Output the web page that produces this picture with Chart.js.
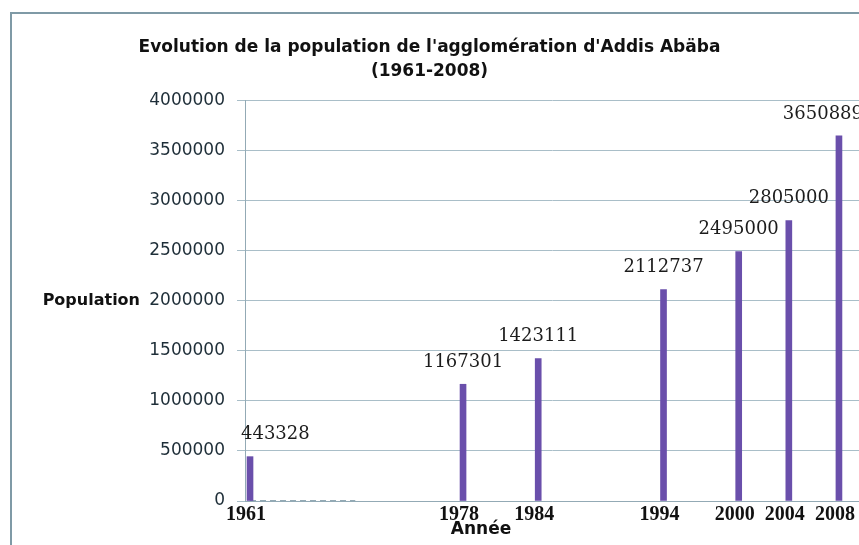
<!DOCTYPE html>
<html>
<head>
<meta charset="utf-8">
<script src="https://cdn.jsdelivr.net/npm/chart.js@4/dist/chart.umd.min.js"></script>
<style>
    body { margin: 0; background: #ffffff; }
    canvas { display: block; }
</style>
</head>
<body>
<canvas id="bar-chart-addis" width="859" height="545"></canvas>
<script>
let annees = [1961, 1978, 1984, 1994, 2000, 2004, 2008];
let population = [443328, 1167301, 1423111, 2112737, 2495000, 2805000, 3650889];
let traitAnnees = [1961, 1969.4];
let traitValeurs = [0, 0];

let couleurBarre = "#6a4fab";
let couleurGrille = "#a9bec8";
let couleurAxe = "#93aab5";

function toPoints(xs, ys) {
    let points = [];
    for (let i = 0; i < xs.length; i++) {
        points.push({ x: xs[i], y: ys[i] });
    }
    return points;
}

// cadre, titres d'axes et étiquettes de données
let decorPlugin = {
    id: 'decor',
    beforeDraw: function (chart) {
        let ctx = chart.ctx;
        ctx.save();
        ctx.strokeStyle = "#7f9aa6";
        ctx.lineWidth = 2;
        ctx.beginPath();
        ctx.moveTo(11, chart.height);
        ctx.lineTo(11, 13);
        ctx.lineTo(chart.width, 13);
        ctx.stroke();
        ctx.restore();
    },
    afterDatasetsDraw: function (chart) {
        let ctx = chart.ctx;
        let area = chart.chartArea;
        ctx.save();

        ctx.fillStyle = "#111111";
        ctx.font = "bold 16px 'DejaVu Sans'";
        ctx.textAlign = "right";
        ctx.textBaseline = "middle";
        ctx.fillText("Population", 140, (area.top + area.bottom) / 2);

        ctx.font = "bold 17px 'DejaVu Sans'";
        ctx.textAlign = "center";
        ctx.fillText("Année", area.left + 236, 530);

        ctx.font = "18px 'DejaVu Serif'";
        ctx.fillStyle = "#1c1c1c";
        let meta = chart.getDatasetMeta(0);
        for (let i = 0; i < meta.data.length; i++) {
            let bar = meta.data[i];
            let texte = String(population[i]);
            let w = ctx.measureText(texte).width;
            let x = bar.x;
            x = Math.max(x, area.left - 4 + w / 2);
            x = Math.min(x, area.right + 4 - w / 2);
            ctx.fillText(texte, x, bar.y - 22);
        }
        ctx.restore();
    }
};

new Chart(document.getElementById("bar-chart-addis"), {
    type: 'bar',
    data: {
        datasets: [{
            label: "Population",
            data: toPoints(annees, population),
            backgroundColor: couleurBarre,
            barThickness: 6
        }, {
            type: 'line',
            label: "trait",
            data: toPoints(traitAnnees, traitValeurs),
            borderColor: couleurAxe,
            borderWidth: 2,
            borderDash: [6, 4],
            pointRadius: 0,
            fill: false
        }]
    },
    options: {
        responsive: false,
        animation: false,
        layout: { padding: 0 },
        plugins: {
            legend: { display: false },
            tooltip: { enabled: false },
            title: {
                display: true,
                text: ["Evolution de la population de l'agglomération d'Addis Abäba", "(1961-2008)"],
                color: "#111111",
                font: { family: "'DejaVu Sans'", size: 17, weight: 'bold', lineHeight: 1.41 },
                padding: { top: 36, bottom: 17 }
            }
        },
        scales: {
            x: {
                type: 'linear',
                min: 1960.6,
                max: 2009.6,
                offset: false,
                grid: { display: false, drawTicks: false },
                border: { display: true, color: couleurAxe, width: 1 },
                afterBuildTicks: function (scale) {
                    scale.ticks = annees.map(function (a) { return { value: a }; });
                },
                afterFit: function (scale) {
                    scale.height = 44;
                    scale.paddingLeft = 0;
                    scale.paddingRight = 0;
                },
                ticks: {
                    autoSkip: false,
                    maxRotation: 0,
                    padding: 2,
                    labelOffset: -4,
                    color: "#111111",
                    font: { family: "'Liberation Serif'", size: 20, weight: 'bold' },
                    callback: function (value) { return String(value); }
                }
            },
            y: {
                min: 0,
                max: 4000000,
                grid: { color: couleurGrille, tickLength: 8 },
                border: { display: true, color: couleurAxe, width: 1 },
                afterFit: function (scale) {
                    scale.width = 245;
                    scale.paddingTop = 0;
                    scale.paddingBottom = 0;
                },
                ticks: {
                    stepSize: 500000,
                    padding: 12,
                    color: "#1e2e38",
                    font: { family: "'DejaVu Sans'", size: 17 },
                    callback: function (value) { return String(value); }
                }
            }
        }
    },
    plugins: [decorPlugin]
});
</script>
</body>
</html>
